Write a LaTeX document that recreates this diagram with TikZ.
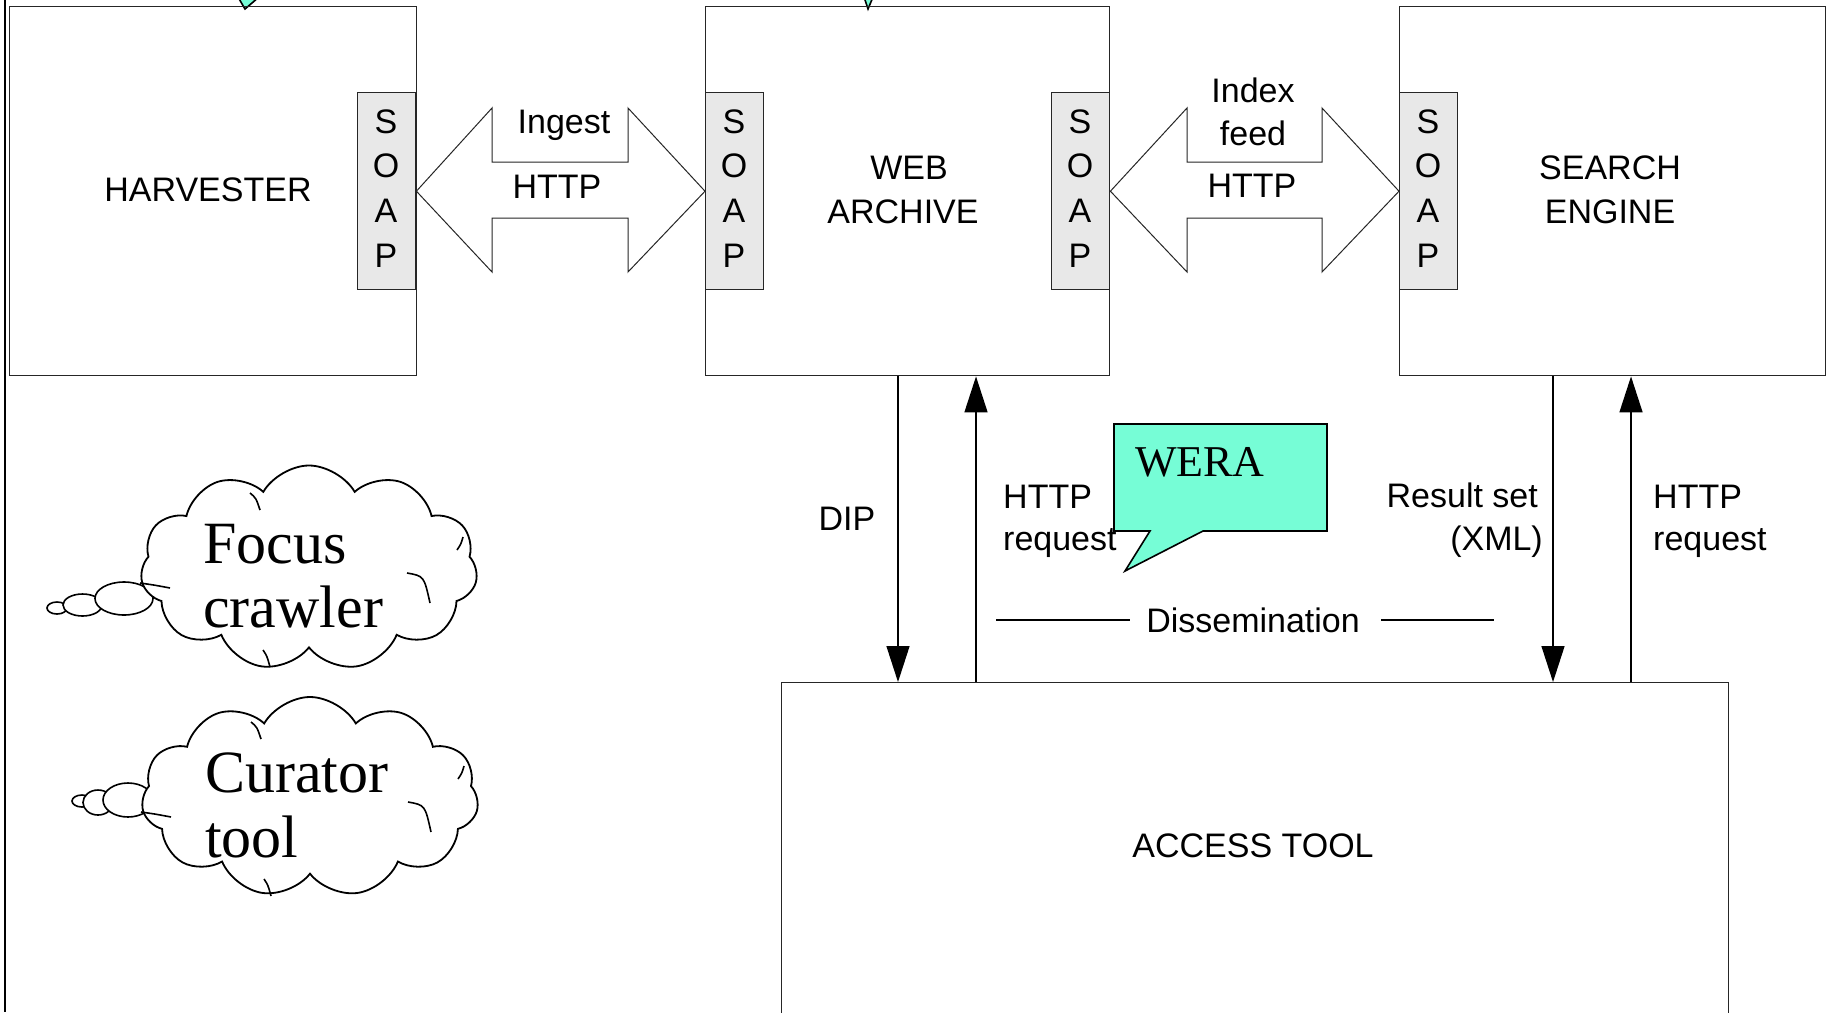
\documentclass[tikz,border=0pt]{standalone}
\usepackage{fontspec}
\setmainfont{Liberation Serif}
\newfontfamily\arialfont{Liberation Sans}
\usetikzlibrary{shapes.symbols,shapes.geometric,arrows.meta}
\definecolor{wera}{RGB}{118,253,214}
\definecolor{soapgray}{RGB}{232,232,232}
\newcommand{\soapcol}[2]{%
  \foreach \l [count=\i] in {S,O,A,P}
    \node[lbl,anchor=base] (#1\i) at (#2,{133+44.7*(\i-1)}) {\l};}
\newcommand{\cloudarcs}[1]{%
  \begin{scope}[shift={(#1.center)},line width=1.6pt]
    \draw (98,5) .. controls (115,8) .. (121,35);
    \draw (-169,15) .. controls (-155,17) .. (-139,20);
    \draw (-59,-75) .. controls (-53,-70) .. (-49,-58);
    \draw (148,-18) .. controls (152,-24) .. (154,-31);
    \draw (-46,82) .. controls (-42,88) .. (-39,99);
  \end{scope}}
\begin{document}
\begin{tikzpicture}[x=1pt,y=-1pt,
  box/.style={draw=black!85,line width=1.4pt,inner sep=0pt,anchor=north west},
  soapbox/.style={draw=black!85,fill=soapgray,line width=1.4pt,inner sep=0pt,anchor=north west,minimum width=58pt,minimum height=197pt},
  lbl/.style={font=\arialfont\fontsize{34}{40}\selectfont,inner sep=0pt},
  big/.style={font=\fontsize{60}{66}\selectfont,inner sep=0pt,anchor=base west},
  blk/.style={draw=black!85,line width=1pt,fill=white},
  conn/.style={draw=black,line width=1.4pt,-{Triangle[width=23pt,length=36pt]}},
  thought/.style={draw=black,line width=1.8pt,fill=white},
  puff/.style={ellipse,draw=black,line width=1.6pt,fill=white,inner sep=0pt}]
\useasboundingbox (0,0) rectangle (1827,1012);
\fill[white] (0,0) rectangle (1827,1012);
% page edge line
\draw[line width=2pt] (4.5,0) -- (4.5,1012);
% callout tails cut at the top edge
\draw[line width=1.6pt,fill=wera] (238,-3) -- (245,9) -- (259,-3);
\draw[line width=1.6pt,fill=wera] (864,-3) -- (868,9) -- (873,-3);
% main boxes
\node[box,minimum width=407pt,minimum height=369pt] (harv) at (9,6) {};
\node[box,minimum width=404pt,minimum height=369pt] (wa) at (705,6) {};
\node[box,minimum width=426pt,minimum height=369pt] (se) at (1399,6) {};
\node[box,minimum width=947pt,minimum height=360pt] (acc) at (781,682) {};
% SOAP boxes
\node[soapbox] (soap1) at (357,92) {};
\node[soapbox] (soap2) at (705,92) {};
\node[soapbox] (soap3) at (1051,92) {};
\node[soapbox] (soap4) at (1399,92) {};
\soapcol{sa}{386}
\soapcol{sb}{734}
\soapcol{sc}{1080}
\soapcol{sd}{1428}
% box labels
\node[lbl,anchor=base] (tharv) at (208,201) {HARVESTER};
\node[lbl,anchor=base] (twa1) at (909,179) {WEB};
\node[lbl,anchor=base] (twa2) at (903,223) {ARCHIVE};
\node[lbl,anchor=base] (tse1) at (1610,179) {SEARCH};
\node[lbl,anchor=base] (tse2) at (1610,223) {ENGINE};
\node[lbl,anchor=base] (tacc) at (1253,857) {ACCESS TOOL};
% block double arrows
\draw[blk] (soap1.east) -- (492,108) -- (492,162) -- (628,162) -- (628,108) -- (soap2.west)
  -- (628,272) -- (628,218) -- (492,218) -- (492,272) -- cycle;
\draw[blk] (soap3.east) -- (1187,108) -- (1187,162) -- (1322,162) -- (1322,108) -- (soap4.west)
  -- (1322,272) -- (1322,218) -- (1187,218) -- (1187,272) -- cycle;
\node[lbl,anchor=base] (ting) at (564,133) {Ingest};
\node[lbl,anchor=base] (thttp1) at (557,198) {HTTP};
\node[lbl,anchor=base] (tidx) at (1253,102) {Index};
\node[lbl,anchor=base] (tfeed) at (1253,145) {feed};
\node[lbl,anchor=base] (thttp2) at (1252,197) {HTTP};
% vertical connectors
\draw[conn] (898,0 |- wa.south) -- (898,0 |- acc.north);
\draw[conn] (976,0 |- acc.north) -- (976,0 |- wa.south);
\draw[conn] (1553,0 |- se.south) -- (1553,0 |- acc.north);
\draw[conn] (1631,0 |- acc.north) -- (1631,0 |- se.south);
\node[lbl,anchor=base] (tdip) at (847,530) {DIP};
% WERA callout
\draw[line width=1.6pt,fill=wera] (1114,424) -- (1327,424) -- (1327,531) -- (1203,531)
  -- (1125,571) -- (1150,531) -- (1114,531) -- cycle;
\node[font=\fontsize{44}{50}\selectfont,inner sep=0pt,anchor=base west] (twera) at (1135,476) {WERA};
\node[lbl,anchor=base west] (treq1a) at (1003,508) {HTTP};
\node[lbl,anchor=base west] (treq1b) at (1003,550) {request};
\node[lbl,anchor=base east] (tres1) at (1538,507) {Result set};
\node[lbl,anchor=base east] (tres2) at (1543,550) {(XML)};
\node[lbl,anchor=base west] (treq2a) at (1653,508) {HTTP};
\node[lbl,anchor=base west] (treq2b) at (1653,550) {request};
% Dissemination
\node[lbl,anchor=base] (tdiss) at (1253,632) {Dissemination};
\coordinate (dl1) at (996,620);
\coordinate (dl2) at (1130,620);
\coordinate (dr1) at (1381,620);
\coordinate (dr2) at (1494,620);
\draw[line width=1.2pt] (dl1) -- (dl2);
\draw[line width=1.2pt] (dr1) -- (dr2);
% thought clouds
\node[puff,minimum width=20pt,minimum height=12pt] (fb1) at (57,608) {};
\node[puff,minimum width=39pt,minimum height=22pt] (fb2) at (82.5,605) {};
\node[puff,minimum width=58pt,minimum height=33pt] (fb3) at (124,598.5) {};
\node[cloud,cloud puffs=11,cloud puff arc=120,aspect=1.65,thought,inner sep=0pt,
  minimum width=337pt,minimum height=205pt] (cloud1) at (309,568) {};
\cloudarcs{cloud1}
\node[big] (tfocus) at (203,563) {Focus};
\node[big] (tcrawl) at (203,627) {crawler};
\node[puff,minimum width=20pt,minimum height=12pt] (cb1) at (82,801) {};
\node[puff,minimum width=30pt,minimum height=25pt] (cb2) at (98,802.5) {};
\node[puff,minimum width=50pt,minimum height=34pt] (cb3) at (128,800) {};
\node[cloud,cloud puffs=11,cloud puff arc=120,aspect=1.65,thought,inner sep=0pt,
  minimum width=337pt,minimum height=200pt] (cloud2) at (310,797) {};
\cloudarcs{cloud2}
\node[big] (tcur) at (205,792) {Curator};
\node[big] (ttool) at (205,857) {tool};
\end{tikzpicture}
\end{document}
